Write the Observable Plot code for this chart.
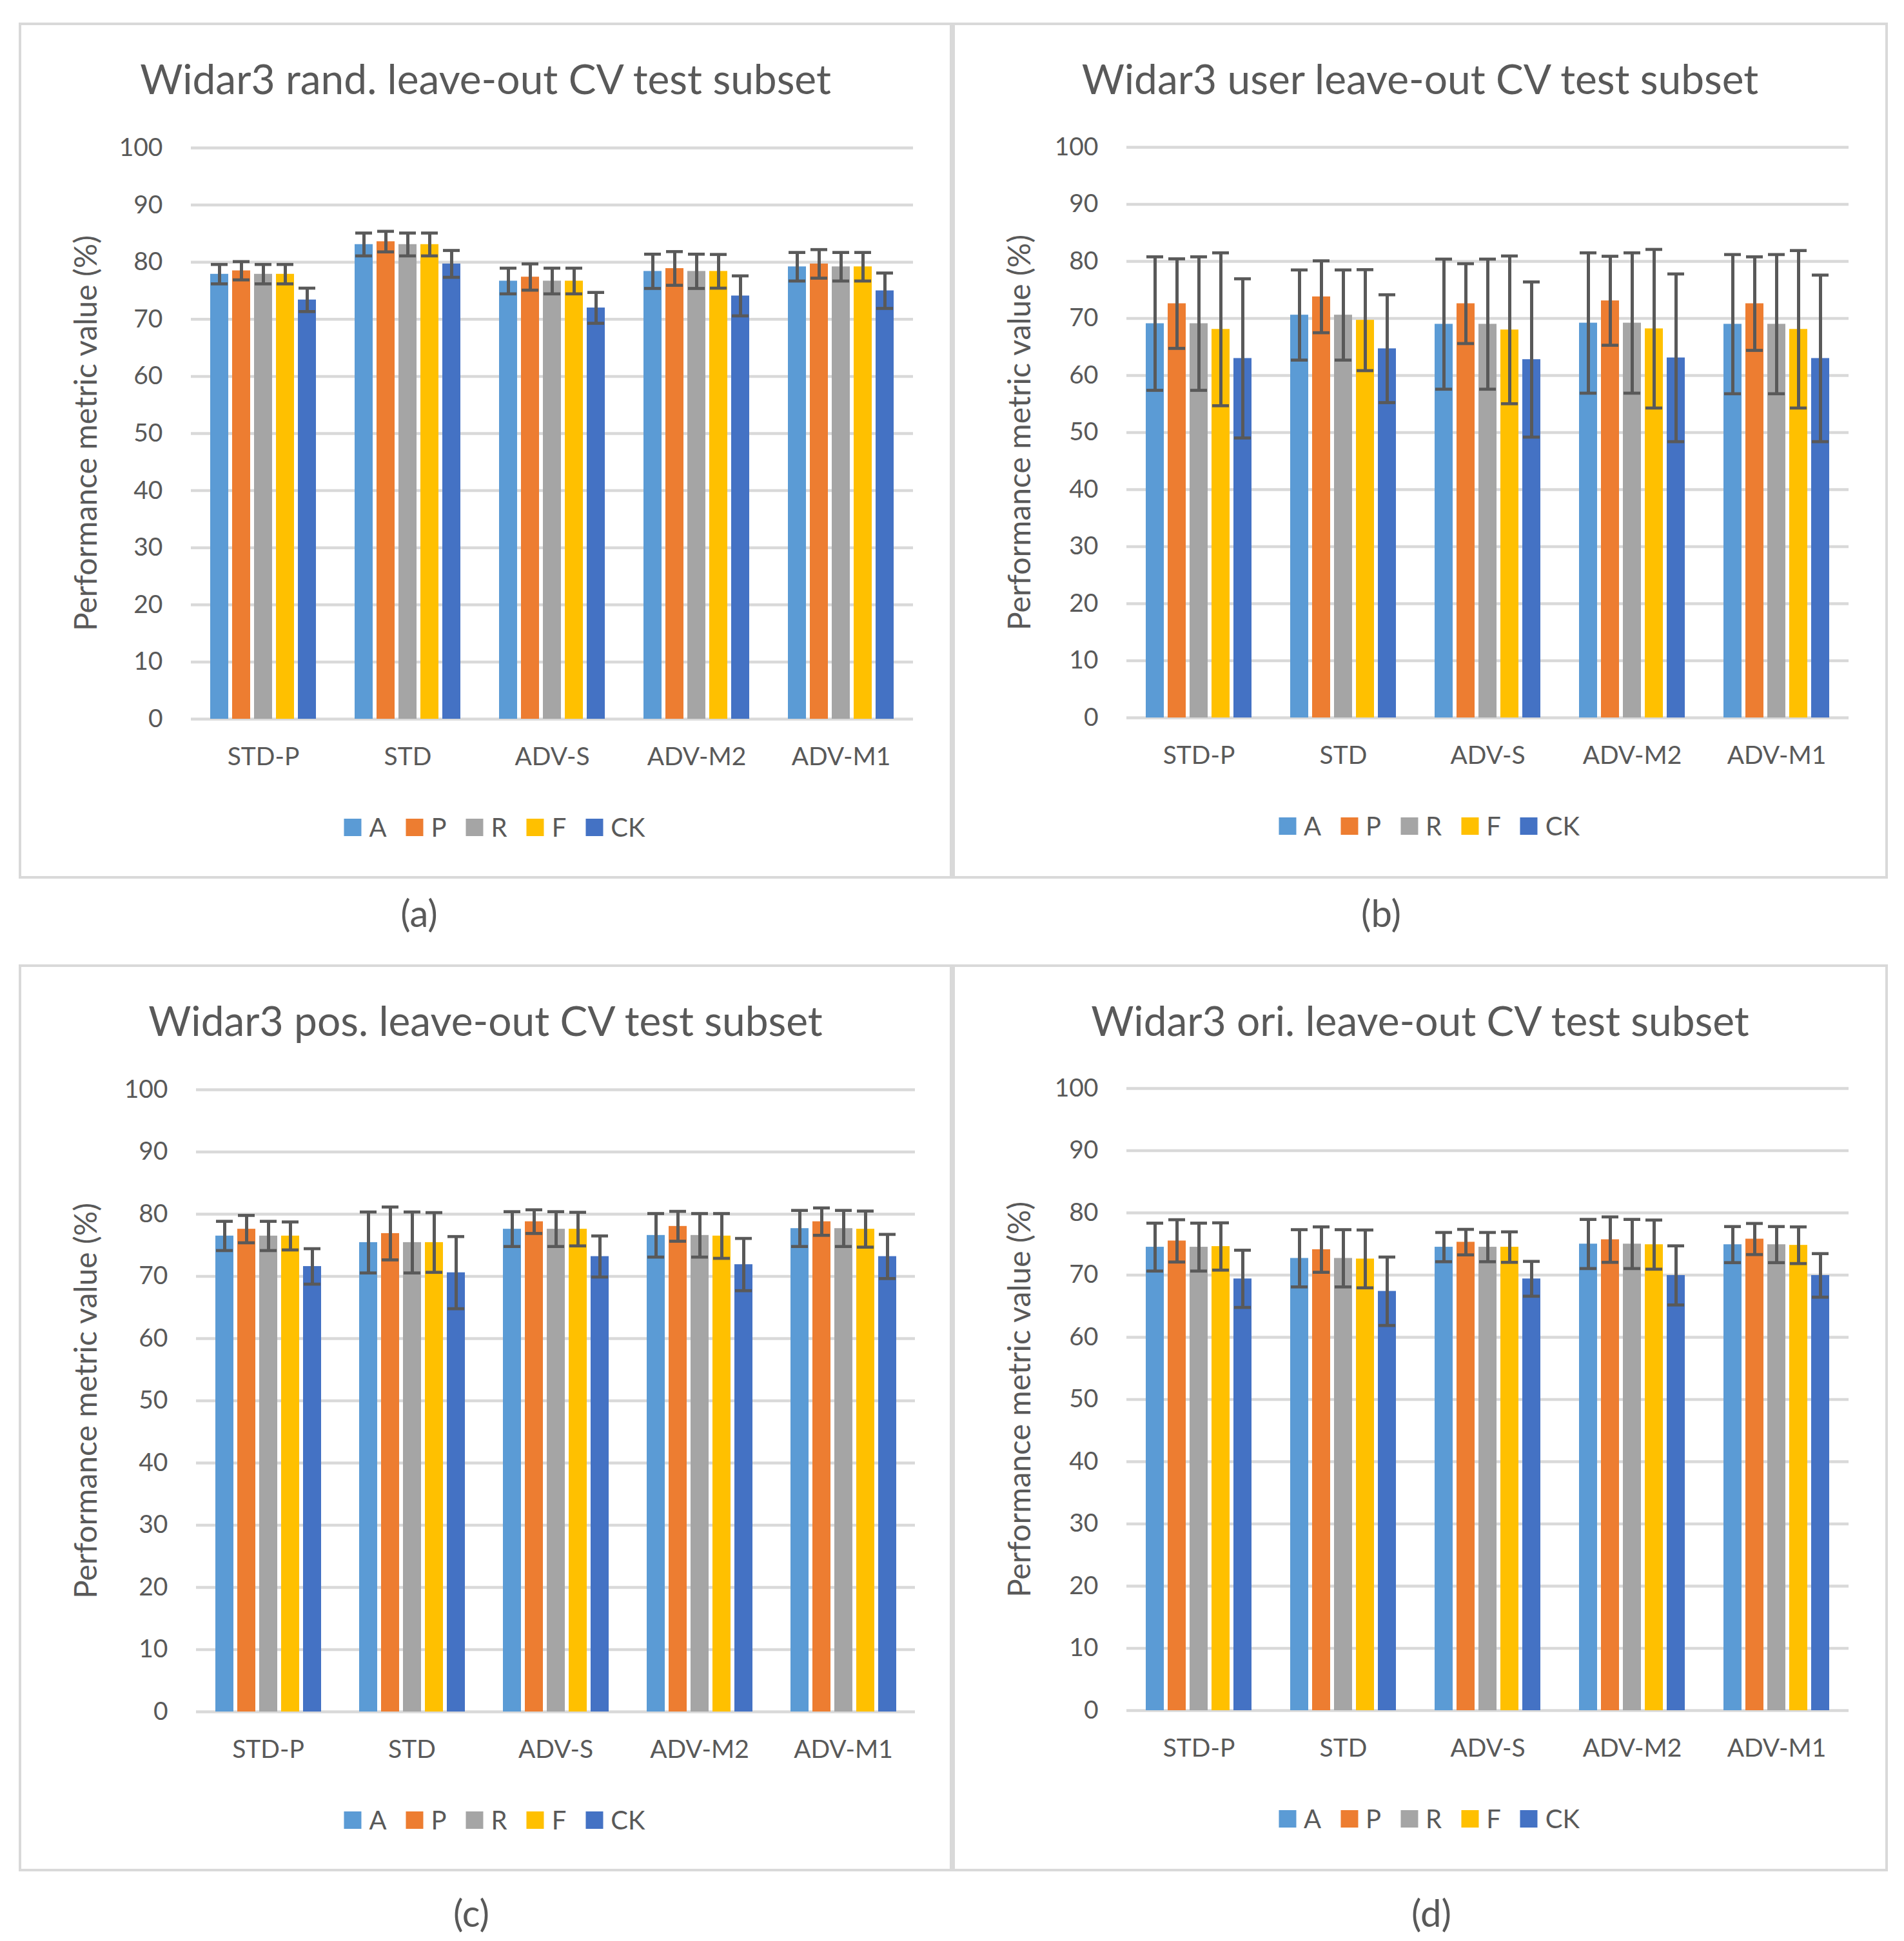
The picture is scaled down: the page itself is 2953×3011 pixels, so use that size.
<!DOCTYPE html>
<html>
<head>
<meta charset="utf-8">
<script src="https://cdn.jsdelivr.net/npm/d3@7"></script>
<script src="https://cdn.jsdelivr.net/npm/@observablehq/plot@0.6"></script>
<style>
  body { margin: 0; background: #fff; }
  #page { position: relative; width: 2953px; height: 3011px; overflow: hidden; font-family: Lato, "Open Sans", sans-serif; color: #595959; }
  .box { position: absolute; border: 4px solid #d9d9d9; box-sizing: border-box; }
  .center { position: absolute; transform: translate(-50%, -50%); white-space: nowrap; }
  .title { font-size: 64px; }
  .ylab { font-size: 48px; transform: translate(-50%, -50%) rotate(-90deg); }
  .letter { font-size: 58px; }
  .legend { display: flex; align-items: center; font-size: 40px; }
  .legend span.sw { display: inline-block; width: 27px; height: 27px; margin-right: 12px; }
  .legend span.lb { margin-right: 30px; }
  .plot { position: absolute; }
</style>
</head>
<body>
<div id="page"></div>
<script>
const categories = ["STD-P", "STD", "ADV-S", "ADV-M2", "ADV-M1"];
const series = ["A", "P", "R", "F", "CK"];
const colors = ["#5B9BD5", "#ED7D31", "#A5A5A5", "#FFC000", "#4472C4"];
const yTicks = [0, 10, 20, 30, 40, 50, 60, 70, 80, 90, 100];

// rows = categories, columns = series
const randValues = [
  [77.9, 78.5, 77.9, 77.9, 73.4],
  [83.1, 83.6, 83.1, 83.1, 79.7],
  [76.7, 77.4, 76.7, 76.7, 72.0],
  [78.4, 78.9, 78.4, 78.4, 74.1],
  [79.2, 79.7, 79.2, 79.2, 75.0]
];
const randErrors = [
  [1.7, 1.6, 1.7, 1.7, 2.05],
  [2.0, 1.8, 2.0, 2.0, 2.35],
  [2.25, 2.3, 2.25, 2.25, 2.7],
  [3.0, 2.95, 3.0, 2.95, 3.5],
  [2.5, 2.5, 2.5, 2.5, 3.1]
];
const userValues = [
  [69.1, 72.6, 69.1, 68.1, 63.0],
  [70.6, 73.8, 70.6, 69.7, 64.7],
  [69.0, 72.6, 69.0, 68.0, 62.8],
  [69.2, 73.1, 69.2, 68.2, 63.1],
  [69.0, 72.6, 69.0, 68.1, 63.0]
];
const userErrors = [
  [11.7, 7.85, 11.7, 13.4, 13.95],
  [7.9, 6.3, 7.9, 8.85, 9.45],
  [11.4, 7.0, 11.4, 12.95, 13.6],
  [12.3, 7.8, 12.3, 13.9, 14.7],
  [12.2, 8.2, 12.2, 13.8, 14.6]
];
const posValues = [
  [76.5, 77.6, 76.5, 76.5, 71.6],
  [75.45, 76.9, 75.45, 75.45, 70.6],
  [77.6, 78.8, 77.6, 77.6, 73.2],
  [76.6, 78.05, 76.6, 76.5, 71.9],
  [77.7, 78.8, 77.7, 77.6, 73.2]
];
const posErrors = [
  [2.35, 2.2, 2.35, 2.25, 2.85],
  [4.9, 4.25, 4.9, 4.8, 5.8],
  [2.8, 1.9, 2.8, 2.7, 3.3],
  [3.5, 2.4, 3.5, 3.6, 4.2],
  [2.9, 2.2, 2.9, 2.9, 3.55]
];
const oriValues = [
  [74.5, 75.5, 74.5, 74.6, 69.4],
  [72.7, 74.1, 72.7, 72.6, 67.4],
  [74.5, 75.3, 74.5, 74.5, 69.4],
  [75.0, 75.7, 75.0, 74.9, 69.95],
  [74.9, 75.8, 74.9, 74.8, 69.95]
];
const oriErrors = [
  [3.85, 3.4, 3.85, 3.8, 4.6],
  [4.6, 3.65, 4.6, 4.65, 5.5],
  [2.35, 2.05, 2.35, 2.45, 2.8],
  [3.95, 3.65, 3.95, 3.95, 4.75],
  [2.9, 2.5, 2.9, 2.95, 3.5]
];

const panels = [
  {title: "Widar3 rand. leave-out CV test subset", letter: "(a)", values: randValues, errors: randErrors,
   left: 29, top: 35, width: 1448, height: 1328, plotTop: 229, plotBottom: 1115, plotLeft: 295, plotRight: 1416, lx: 650, ly: 1415},
  {title: "Widar3 user leave-out CV test subset", letter: "(b)", values: userValues, errors: userErrors,
   left: 1477, top: 35, width: 1451, height: 1328, plotTop: 228, plotBottom: 1113, plotLeft: 1746, plotRight: 2868, lx: 2142, ly: 1415},
  {title: "Widar3 pos. leave-out CV test subset", letter: "(c)", values: posValues, errors: posErrors,
   left: 29, top: 1496, width: 1448, height: 1407, plotTop: 1690, plotBottom: 2655, plotLeft: 302, plotRight: 1421, lx: 731, ly: 2966},
  {title: "Widar3 ori. leave-out CV test subset", letter: "(d)", values: oriValues, errors: oriErrors,
   left: 1477, top: 1496, width: 1451, height: 1407, plotTop: 1688, plotBottom: 2653, plotLeft: 1746, plotRight: 2868, lx: 2220, ly: 2966}
];

const page = d3.select("#page");

panels.forEach(p => {
  page.append("div").attr("class", "box")
    .style("left", p.left + "px").style("top", p.top + "px")
    .style("width", p.width + "px").style("height", p.height + "px");

  page.append("div").attr("class", "center title")
    .style("left", (p.left + p.width / 2) + "px").style("top", (p.top + 86) + "px")
    .text(p.title);

  page.append("div").attr("class", "center ylab")
    .style("left", (p.left + 102) + "px").style("top", ((p.plotTop + p.plotBottom) / 2) + "px")
    .text("Performance metric value (%)");

  const rows = categories.flatMap((c, i) => series.map((s, j) => ({
    cat: c, ser: s, v: p.values[i][j], e: p.errors[i][j]
  })));

  const mt = 49, mb = 100;
  const chart = Plot.plot({
    width: p.width,
    height: p.plotBottom - p.plotTop + mt + mb,
    marginTop: mt,
    marginBottom: mb,
    marginLeft: p.plotLeft - p.left,
    marginRight: p.left + p.width - p.plotRight,
    style: {
      color: "#595959",
      fontFamily: "Lato, 'Open Sans', sans-serif",
      fontSize: "39px",
      background: "transparent"
    },
    fx: {domain: categories, padding: 0, axis: "bottom", tickSize: 0, tickPadding: 44, label: null},
    x: {domain: series, axis: null, paddingInner: 0.19, paddingOuter: 0.82},
    y: {domain: [0, 100], ticks: yTicks, tickSize: 0, tickPadding: 44, label: null},
    color: {domain: series, range: colors},
    marks: [
      Plot.ruleY(yTicks, {stroke: "#d9d9d9", strokeWidth: 4.5}),
      Plot.barY(rows, {fx: "cat", x: "ser", y: "v", fill: "ser"}),
      Plot.ruleX(rows, {fx: "cat", x: "ser", y1: d => d.v - d.e, y2: d => d.v + d.e, stroke: "#595959", strokeWidth: 5}),
      Plot.tickY(rows, {fx: "cat", x: "ser", y: d => d.v + d.e, stroke: "#595959", strokeWidth: 4.7, insetLeft: 1, insetRight: 1}),
      Plot.tickY(rows, {fx: "cat", x: "ser", y: d => d.v - d.e, stroke: "#595959", strokeWidth: 4.7, insetLeft: 1, insetRight: 1})
    ]
  });

  page.append("div").attr("class", "plot")
    .style("left", p.left + "px").style("top", (p.plotTop - mt) + "px")
    .append(() => chart);

  const leg = page.append("div").attr("class", "center legend")
    .style("left", (p.left + p.width / 2 + 14) + "px").style("top", (p.plotBottom + 168) + "px");
  series.forEach((s, j) => {
    leg.append("span").attr("class", "sw").style("background", colors[j]);
    leg.append("span").attr("class", "lb").style("margin-right", j === series.length - 1 ? "0px" : "30px").text(s);
  });

  page.append("div").attr("class", "center letter")
    .style("left", p.lx + "px").style("top", p.ly + "px")
    .text(p.letter);
});
</script>
</body>
</html>
